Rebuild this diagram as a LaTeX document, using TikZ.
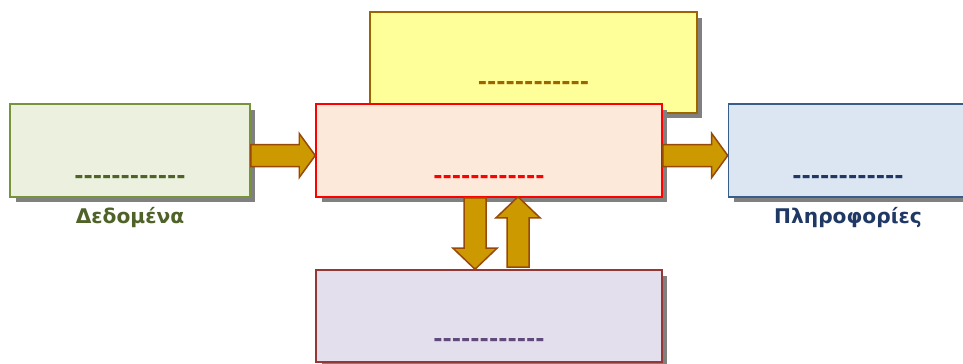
\documentclass[tikz,border=0pt]{standalone}
\usepackage{fontspec}
\setmainfont{DejaVu Sans}[Ligatures=TeXOff]
\usetikzlibrary{calc,shadows}

\definecolor{datafill}{HTML}{EBF1DE}
\definecolor{dataline}{HTML}{77933C}
\definecolor{datatext}{HTML}{4F6228}
\definecolor{progfill}{HTML}{FFFF99}
\definecolor{progline}{HTML}{9C6500}
\definecolor{procfill}{HTML}{FDE9D9}
\definecolor{infofill}{HTML}{DCE6F2}
\definecolor{infoline}{HTML}{385D8A}
\definecolor{infotext}{HTML}{1F3864}
\definecolor{storefill}{HTML}{E4DFEC}
\definecolor{storeline}{HTML}{953735}
\definecolor{storetext}{HTML}{604A7B}
\definecolor{arrowfill}{HTML}{CC9900}
\definecolor{arrowline}{HTML}{984807}

\begin{document}
\begin{tikzpicture}[x=0.02cm, y=-0.02cm,
  box/.style={draw, line width=0.9pt, inner sep=0pt,
    drop shadow={shadow xshift=0.11cm, shadow yshift=-0.11cm, fill=black!50, opacity=1}},
  dashes/.style={font=\bfseries\fontsize{12.7}{14}\selectfont, anchor=base, inner sep=0pt},
  caption/.style={font=\bfseries\fontsize{11.5}{14}\selectfont, anchor=base, inner sep=0pt},
  blockarrow/.style={draw=arrowline, fill=arrowfill, line width=0.85pt, line join=miter}]
  \useasboundingbox (0,0) rectangle (963,363);

  % Block arrow from tail to tip (optional: head length)
  \newcommand{\blockarrow}[3][0.32cm]{%
    \coordinate (tail) at (#2);
    \coordinate (tip) at (#3);
    \coordinate (head) at ($(tip)!#1!(tail)$);
    \draw[blockarrow] ($(tail)!0.22cm!90:(tip)$) -- ($(head)!0.22cm!90:(tip)$)
      -- ($(head)!0.44cm!90:(tip)$) -- (tip) -- ($(head)!0.44cm!-90:(tip)$)
      -- ($(head)!0.22cm!-90:(tip)$) -- ($(tail)!0.22cm!-90:(tip)$) -- cycle;}

  % Boxes
  \node[box, draw=dataline, fill=datafill, minimum width=4.8cm, minimum height=1.86cm] (data) at (130,150.5) {};
  \node[box, draw=progline, fill=progfill, minimum width=6.54cm, minimum height=2.02cm] (prog) at (533.5,62.5) {};
  \node[box, draw=red, fill=procfill, minimum width=6.92cm, minimum height=1.86cm] (proc) at (489,150.5) {};
  \node[box, draw=infoline, fill=infofill, minimum width=4.78cm, minimum height=1.86cm] (info) at (848,150.5) {};
  \node[box, draw=storeline, fill=storefill, minimum width=6.92cm, minimum height=1.84cm] (store) at (489,316) {};

  % Texts
  \node[dashes, text=datatext] (data-dash) at ($(data)+(0,32.5)$) {------------};
  \node[dashes, text=progline] (prog-dash) at ($(prog)+(0,26.5)$) {------------};
  \node[dashes, text=red] (proc-dash) at ($(proc)+(0,32.5)$) {------------};
  \node[dashes, text=infotext] (info-dash) at ($(info)+(0,32.5)$) {------------};
  \node[dashes, text=storetext] (store-dash) at ($(store)+(0,30)$) {------------};

  % Labels
  \node[caption, text=datatext] (data-label) at ($(data.south)+(0,26)$) {Δεδομένα};
  \node[caption, text=infotext] (info-label) at ($(info.south)+(0,26)$) {Πληροφορίες};

  % Arrows
  \blockarrow{$(data.east)+(0,5)$}{$(proc.west)+(0,5)$}
  \blockarrow{$(proc.east)+(0,5)$}{$(info.west)+(0,5)$}
  \blockarrow[0.42cm]{$(proc.south)+(-14,0)$}{$(store.north)+(-14,0)$}
  \blockarrow[0.42cm]{$(store.north)+(29,-2)$}{$(proc.south)+(29,-1)$}
\end{tikzpicture}
\end{document}
